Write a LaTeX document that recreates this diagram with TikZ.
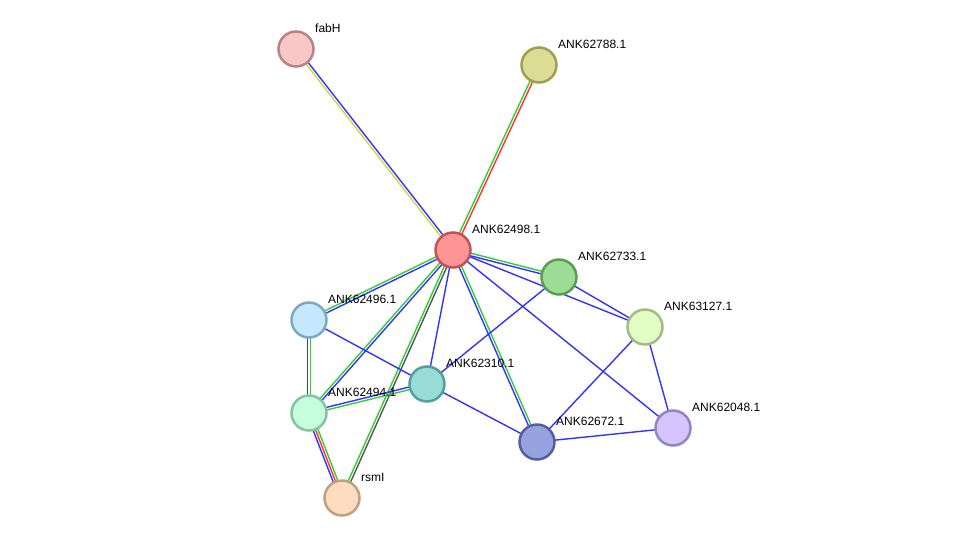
\documentclass[tikz,border=0pt]{standalone}
\usepackage{fontspec}
\setmainfont{Liberation Sans}
\usetikzlibrary{calc,backgrounds}
\definecolor{eblue}{HTML}{3333FF}
\definecolor{egreen}{HTML}{33CC33}
\definecolor{ered}{HTML}{FF3333}
\definecolor{eyel}{HTML}{C8DC3C}
\definecolor{egray}{HTML}{555555}
\tikzset{
  prot/.style={circle, minimum size=35pt, inner sep=0pt, line width=2.5pt},
  lbl/.style={anchor=base west, font=\fontsize{12}{14}\selectfont, inner sep=0pt},
  ln/.style={line width=1.4pt},
}
\newcommand\ed[4]{\draw[ln,#4] ($(#1.center)!#3!90:(#2.center)$) -- ($(#2.center)!#3!-90:(#1.center)$);}
\newcommand\prot[5]{%
  \definecolor{fill#1}{HTML}{#4}\definecolor{draw#1}{HTML}{#5}%
  \node[prot, fill=fill#1, draw=draw#1] (#1) at (#2) {};
  \node[lbl] (#1-l) at ($(#2)+(19,-17)$) {#3};}
\begin{document}
\begin{tikzpicture}[x=1pt,y=-1pt]
\useasboundingbox (0,0) rectangle (975,544);
\prot{fab}{296,49}{fabH}{F8C8C8}{B88484}
\prot{p788}{539,65}{ANK62788.1}{DCDC96}{A0A050}
\prot{p498}{453,250}{ANK62498.1}{FF9494}{C05454}
\prot{p733}{559,277}{ANK62733.1}{9CDC94}{5C9C54}
\prot{p127}{645,327}{ANK63127.1}{E2FEC4}{A4BC84}
\prot{p496}{309,320}{ANK62496.1}{C4E8FE}{80A8C4}
\prot{p310}{427,384}{ANK62310.1}{98DCD8}{54A09C}
\prot{p494}{309,413}{ANK62494.1}{C4FEDC}{84C4A4}
\prot{p672}{537,442}{ANK62672.1}{98A2E0}{54609C}
\prot{p048}{673,428}{ANK62048.1}{D4C4FE}{9484C4}
\prot{rsm}{342,498}{rsmI}{FEDCC0}{C0A080}
\begin{pgfonlayer}{background}
\ed{fab}{p498}{-1.3pt}{eyel}
\ed{fab}{p498}{1.3pt}{eblue}
\ed{p788}{p498}{1.3pt}{ered}
\ed{p788}{p498}{-1.3pt}{egreen}
\ed{p498}{p733}{-1.3pt}{eblue}
\ed{p498}{p733}{1.3pt}{egreen}
\ed{p498}{p127}{0pt}{eblue}
\ed{p498}{p048}{0pt}{eblue}
\ed{p498}{p672}{1.3pt}{egreen}
\ed{p498}{p672}{-1.3pt}{eblue}
\ed{p498}{p310}{0pt}{eblue}
\ed{p498}{p494}{1.3pt}{eblue}
\ed{p498}{p494}{-1.3pt}{egreen}
\ed{p498}{p496}{1.3pt}{eblue}
\ed{p498}{p496}{-1.3pt}{egreen}
\ed{p498}{rsm}{1.3pt}{egray}
\ed{p498}{rsm}{-1.3pt}{egreen}
\ed{p733}{p310}{0pt}{eblue}
\ed{p733}{p127}{0pt}{eblue}
\ed{p127}{p672}{0pt}{eblue}
\ed{p127}{p048}{0pt}{eblue}
\ed{p672}{p048}{0pt}{eblue}
\ed{p310}{p672}{0pt}{eblue}
\ed{p496}{p310}{0pt}{eblue}
\ed{p496}{p494}{-1.3pt}{eblue}
\ed{p496}{p494}{1.3pt}{egreen}
\ed{p494}{p310}{-1.3pt}{egreen}
\ed{p494}{p310}{1.3pt}{eblue}
\ed{p494}{rsm}{-2.4pt}{eblue}
\ed{p494}{rsm}{0pt}{ered}
\ed{p494}{rsm}{2.4pt}{egreen}
\end{pgfonlayer}
\end{tikzpicture}
\end{document}
